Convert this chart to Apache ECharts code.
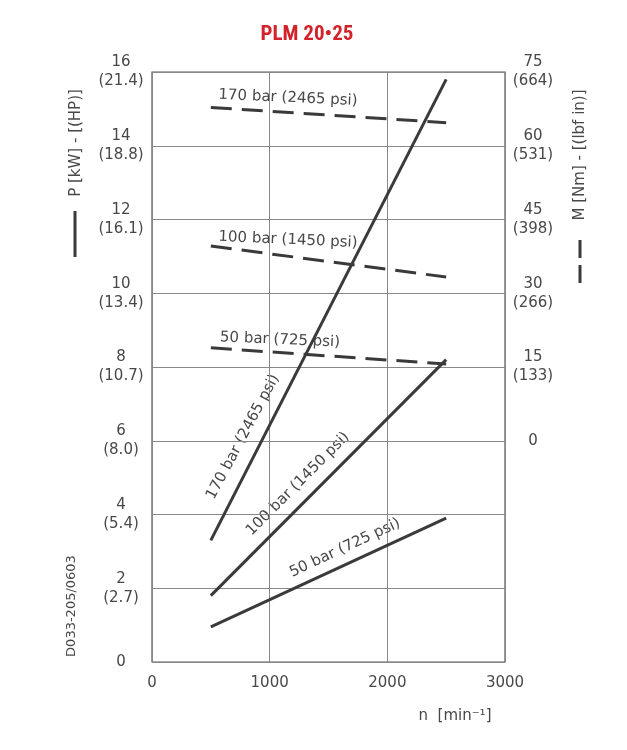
<!DOCTYPE html>
<html>
<head>
<meta charset="utf-8">
<script src="https://cdn.jsdelivr.net/npm/echarts@6/dist/echarts.min.js"></script>
<style>
  html, body { margin: 0; padding: 0; background: #fff; }
  #main { width: 627px; height: 750px; }
</style>
</head>
<body>
<div id="main"></div>
<script>
// speed range of the curves, min^-1
const speed = [500, 2500];

// power P [kW] (solid lines, left axis)
const power170 = [3.3, 15.8];
const power100 = [1.8, 8.2];
const power50 = [0.95, 3.9];

// torque M [Nm] (dashed lines, right axis)
const torque170 = [67.8, 64.7];
const torque100 = [39.6, 33.3];
const torque50 = [18.9, 15.6];

// tick labels
const hpLabels = { 2: "2.7", 4: "5.4", 6: "8.0", 8: "10.7", 10: "13.4", 12: "16.1", 14: "18.8", 16: "21.4" };
const lbfLabels = { 15: "133", 30: "266", 45: "398", 60: "531", 75: "664" };

const ink = "#3a3a3a";
const txt = "#484848";
const font = "DejaVu Sans";

const pairs = (ys) => speed.map((x, i) => [x, ys[i]]);

const solid = (name, ys) => ({
  name: name,
  type: "line",
  yAxisIndex: 0,
  data: pairs(ys),
  symbol: "none",
  silent: true,
  lineStyle: { color: ink, width: 3 },
});
const dashed = (name, ys) => ({
  name: name,
  type: "line",
  yAxisIndex: 1,
  data: pairs(ys),
  symbol: "none",
  silent: true,
  lineStyle: { color: ink, width: 3, type: [21, 10] },
});

const label = (text, x, y, deg, size) => ({
  type: "text",
  x: x,
  y: y,
  rotation: (deg * Math.PI) / 180,
  style: {
    text: text,
    fill: txt,
    fontSize: size || 15,
    fontFamily: font,
    align: "center",
    verticalAlign: "middle",
  },
});

const chart = echarts.init(document.getElementById("main"));
chart.setOption({
  animation: false,
  backgroundColor: "#fff",
  grid: {
    left: 152,
    right: 122,
    top: 72,
    bottom: 88,
    show: true,
    borderColor: "#555",
    borderWidth: 1.2,
  },
  xAxis: {
    type: "value",
    min: 0,
    max: 3000,
    interval: 1000,
    axisLine: { show: false },
    axisTick: { show: false },
    splitLine: { show: true, lineStyle: { color: "#888", width: 1 } },
    axisLabel: { color: txt, fontSize: 15, fontFamily: font, margin: 14, formatter: (v) => String(v) },
  },
  yAxis: [
    {
      type: "value",
      min: 0,
      max: 16,
      interval: 2,
      axisLine: { show: false },
      axisTick: { show: false },
      splitLine: { show: true, lineStyle: { color: "#888", width: 1 } },
      axisLabel: {
        color: txt,
        fontSize: 15,
        fontFamily: font,
        align: "center",
        margin: 31,
        lineHeight: 19,
        formatter: (v) => (hpLabels[v] ? v + "\n(" + hpLabels[v] + ")" : String(v)),
      },
    },
    {
      type: "value",
      min: -45,
      max: 75,
      interval: 15,
      position: "right",
      axisLine: { show: false },
      axisTick: { show: false },
      splitLine: { show: false },
      axisLabel: {
        color: txt,
        fontSize: 15,
        fontFamily: font,
        align: "center",
        margin: 28,
        lineHeight: 19,
        formatter: (v) => (v < 0 ? "" : lbfLabels[v] ? v + "\n(" + lbfLabels[v] + ")" : String(v)),
      },
    },
  ],
  series: [
    solid("P 170 bar", power170),
    solid("P 100 bar", power100),
    solid("P 50 bar", power50),
    dashed("M 170 bar", torque170),
    dashed("M 100 bar", torque100),
    dashed("M 50 bar", torque50),
  ],
  graphic: [
    {
      type: "text",
      x: 307,
      y: 35,
      style: {
        text: "PLM 20\u202225",
        fill: "#d2232a",
        fontSize: 21,
        fontWeight: "bold",
        fontFamily: "Liberation Sans Narrow, Roboto Condensed, Roboto",
        align: "center",
        verticalAlign: "middle",
      },
    },
    label("170 bar (2465 psi)", 288, 98, -2.5),
    label("100 bar (1450 psi)", 288, 240, -2.5),
    label("50 bar (725 psi)", 280, 340, -2.5),
    label("170 bar (2465 psi)", 243, 437, 62),
    label("100 bar (1450 psi)", 298, 484, 45),
    label("50 bar (725 psi)", 345, 548, 25),
    label("P [kW] - [(HP)]", 76, 143, 90),
    {
      type: "line",
      shape: { x1: 75, y1: 211, x2: 75, y2: 257 },
      style: { stroke: ink, lineWidth: 3 },
    },
    label("M [Nm] - [(lbf in)]", 580, 155, 90),
    {
      type: "line",
      shape: { x1: 580, y1: 240, x2: 580, y2: 283 },
      style: { stroke: ink, lineWidth: 3, lineDash: [18, 7] },
    },
    label("D033-205/0603", 72, 606, 90, 13),
    label("n  [min\u207B\u00B9]", 455, 716, 0),
  ],
});
</script>
</body>
</html>
